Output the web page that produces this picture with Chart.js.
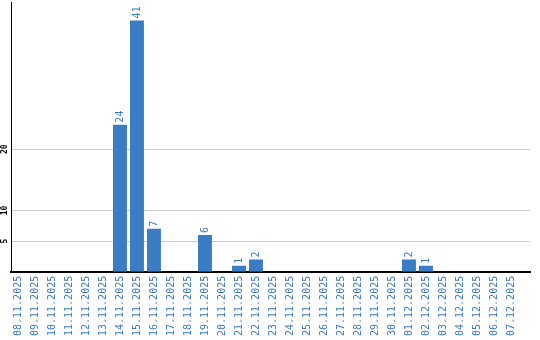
<!DOCTYPE html>
<html>
<head>
<meta charset="utf-8">
<script src="https://cdn.jsdelivr.net/npm/chart.js@4.4.1/dist/chart.umd.min.js"></script>
<style>
  html, body { margin: 0; padding: 0; background: #fff; }
  #wrap { width: 540px; height: 340px; }
</style>
</head>
<body>
<div id="wrap"><canvas id="chart"></canvas></div>
<script>
// days shown on the x axis
var days = [
    '08.11.2025', '09.11.2025', '10.11.2025', '11.11.2025', '12.11.2025',
    '13.11.2025', '14.11.2025', '15.11.2025', '16.11.2025', '17.11.2025',
    '18.11.2025', '19.11.2025', '20.11.2025', '21.11.2025', '22.11.2025',
    '23.11.2025', '24.11.2025', '25.11.2025', '26.11.2025', '27.11.2025',
    '28.11.2025', '29.11.2025', '30.11.2025', '01.12.2025', '02.12.2025',
    '03.12.2025', '04.12.2025', '05.12.2025', '06.12.2025', '07.12.2025'
];
// count per day
var counts = [
    0, 0, 0, 0, 0,
    0, 24, 41, 7, 0,
    0, 6, 0, 1, 2,
    0, 0, 0, 0, 0,
    0, 0, 0, 2, 1,
    0, 0, 0, 0, 0
];
// y axis tick labels
var yTicks = [5, 10, 20];

var sBlue = '#3b7dc4';
var sText = '#3a79c2';

// y tick labels and value labels are rotated, chart.js can't do that itself
var oRotatedText = {
    id: 'rotatedText',
    afterDatasetsDraw: function(chart) {
        var ctx = chart.ctx;
        var yScale = chart.scales.y;
        ctx.save();

        // y tick labels
        ctx.fillStyle = '#000';
        ctx.font = 'bold 8px "DejaVu Sans Mono"';
        ctx.textAlign = 'center';
        ctx.textBaseline = 'middle';
        yTicks.forEach(function(v) {
            var y = yScale.getPixelForValue(v);
            ctx.save();
            ctx.translate(5, y);
            ctx.rotate(-Math.PI / 2);
            ctx.fillText(String(v), 0, 0);
            ctx.restore();
        });

        // value labels above bars
        ctx.fillStyle = sText;
        ctx.font = '10px "DejaVu Sans Mono"';
        ctx.textAlign = 'left';
        ctx.textBaseline = 'middle';
        var meta = chart.getDatasetMeta(0);
        meta.data.forEach(function(bar, i) {
            if (!counts[i])
                return;
            ctx.save();
            ctx.translate(bar.x, bar.y - 2);
            ctx.rotate(-Math.PI / 2);
            ctx.fillText(String(counts[i]), 0, 0);
            ctx.restore();
        });

        ctx.restore();
    }
};

new Chart(document.getElementById('chart'), {
    type: 'bar',
    data: {
        datasets: [{
            data: counts.map(function(v, i) { return {x: i, y: v}; }),
            backgroundColor: sBlue,
            borderWidth: 0,
            barPercentage: 0.82,
            categoryPercentage: 1
        }]
    },
    options: {
        responsive: true,
        maintainAspectRatio: false,
        animation: false,
        layout: { padding: { left: 11, right: 10, top: 2, bottom: 0 } },
        plugins: {
            legend: { display: false },
            tooltip: { enabled: false }
        },
        scales: {
            x: {
                type: 'linear',
                min: -0.41,
                max: 30.12,
                offset: false,
                afterBuildTicks: function(scale) {
                    scale.ticks = days.map(function(d, i) { return {value: i}; });
                },
                grid: { display: false, drawTicks: false },
                border: { display: true, color: '#000', width: 2 },
                ticks: {
                    autoSkip: false,
                    minRotation: 90,
                    maxRotation: 90,
                    padding: 4,
                    color: sText,
                    font: { family: '"DejaVu Sans Mono"', size: 10 },
                    callback: function(v) { return days[v]; }
                }
            },
            y: {
                min: 0,
                max: 44,
                afterBuildTicks: function(scale) {
                    scale.ticks = yTicks.map(function(v) { return {value: v}; });
                },
                grid: { color: '#c8c8c8', drawTicks: false },
                border: { display: true, color: '#000', width: 1 },
                ticks: { display: false }
            }
        }
    },
    plugins: [oRotatedText]
});
</script>
</body>
</html>
